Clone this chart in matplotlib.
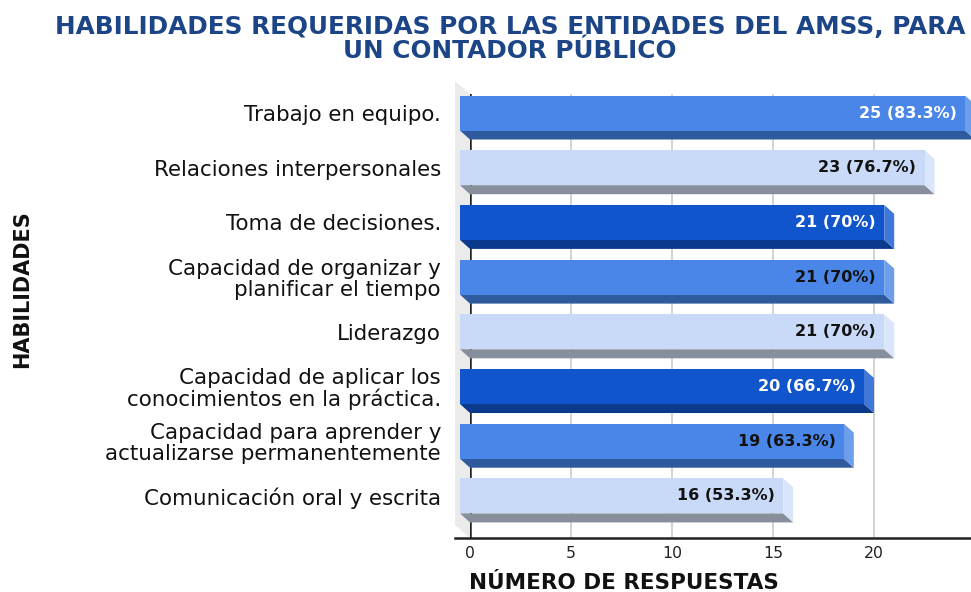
import numpy as np
import matplotlib
matplotlib.use("Agg")
import matplotlib.pyplot as plt
from matplotlib.patches import Polygon

# ── Data ─────────────────────────────────────────────────────
habilidades = [
    "Trabajo en equipo.",
    "Relaciones interpersonales",
    "Toma de decisiones.",
    "Capacidad de organizar y\nplanificar el tiempo",
    "Liderazgo",
    "Capacidad de aplicar los\nconocimientos en la práctica.",
    "Capacidad para aprender y\nactualizarse permanentemente",
    "Comunicación oral y escrita",
]
respuestas = [25, 23, 21, 21, 21, 20, 19, 16]
porcentajes = ["83.3%", "76.7%", "70%", "70%", "70%", "66.7%", "63.3%", "53.3%"]
x_ticks = [0, 5, 10, 15, 20]
x_max = 25

# ── Styles ───────────────────────────────────────────────────
# (front, bottom, side) per palette entry, Google Sheets blues
PALETTE = {
    "mid":   ("#4a86e8", "#2f5a9e", "#6d9eeb"),
    "light": ("#c9daf8", "#878f9d", "#d9e5fb"),
    "dark":  ("#1155cc", "#0b3a8c", "#3f78d8"),
}
bar_style = ["mid", "light", "dark", "mid", "light", "dark", "mid", "light"]
label_color = ["white", "#111111", "white", "#111111", "#111111", "white", "#111111", "#111111"]

W, H = 971, 592
DEPTH = (10, 9)        # 3D depth offset in px (left, up) of the front face
WALL = (15, 13)        # side wall depth in px
BAR_H = 0.64

plt.rcParams["font.family"] = ["DejaVu Sans"]

fig = plt.figure(figsize=(W / 100, H / 100), dpi=100)
fig.patch.set_facecolor("white")

# axes = back plane of the 3D chart, pixel box 470..975 x 94..538
ax = fig.add_axes([470 / W, 54 / H, 505 / W, 444 / H])
ax.set_xlim(0, x_max)
ax.set_ylim(7.605, -0.512)
ax.set_facecolor("none")


def px(dx, dy):
    """image pixel offset (right, down) -> data offset"""
    inv = ax.transData.inverted()
    x0, y0 = inv.transform((0, 0))
    x1, y1 = inv.transform((dx, -dy))
    return x1 - x0, y1 - y0


ddx, ddy = px(DEPTH[0], DEPTH[1])
wdx, wdy = px(WALL[0], WALL[1])
y_lo, y_hi = ax.get_ylim()[1], ax.get_ylim()[0]

# side wall
wall = Polygon([(-wdx, y_lo - wdy), (0, y_lo), (0, y_hi), (-wdx, y_hi - wdy)],
               closed=True, facecolor="#ebebeb", edgecolor="none",
               zorder=0, clip_on=False)
ax.add_patch(wall)

# grid and axis lines
for t in x_ticks[1:]:
    ax.axvline(t, color="#cccccc", lw=1.2, zorder=1)
ax.axvline(0, color="#222222", lw=1.8, zorder=1)
ax.plot([-wdx, x_max], [y_hi, y_hi], color="#222222", lw=1.8,
        zorder=6, clip_on=False)

for s in ax.spines.values():
    s.set_visible(False)

# bars
for i, (v, st) in enumerate(zip(respuestas, bar_style)):
    front, bottom, side = PALETTE[st]
    top, bot = i - BAR_H / 2, i + BAR_H / 2
    fl, fr = -ddx, v - ddx
    ft, fb = top - ddy, bot - ddy
    # bottom face
    ax.add_patch(Polygon([(fl, fb), (fr, fb), (v, bot), (0, bot)], closed=True,
                         facecolor=bottom, edgecolor="none", zorder=3, clip_on=False))
    # right side face
    ax.add_patch(Polygon([(fr, ft), (v, top), (v, bot), (fr, fb)], closed=True,
                         facecolor=side, edgecolor="none", zorder=3, clip_on=False))
    # front face
    ax.add_patch(Polygon([(fl, ft), (fr, ft), (fr, fb), (fl, fb)], closed=True,
                         facecolor=front, edgecolor="none", zorder=4, clip_on=False))
    ax.annotate(f"{v} ({porcentajes[i]})", xy=(fr, (ft + fb) / 2),
                xytext=(-6, 0), textcoords="offset points",
                ha="right", va="center", fontsize=11.5, fontweight="bold",
                color=label_color[i], zorder=5)

# ticks
ax.set_yticks(np.arange(len(habilidades)) - ddy)
ax.set_yticklabels(habilidades, fontsize=15.4, color="#111111",
                   linespacing=1.05, ha="right")
ax.set_xticks(x_ticks)
ax.set_xticklabels([str(t) for t in x_ticks], fontsize=11.3, color="#222222")
ax.tick_params(axis="y", length=0, pad=20.9)
ax.tick_params(axis="x", length=0, pad=6)

# titles
fig.text(510 / W, 1 - 39 / H,
         "HABILIDADES REQUERIDAS POR LAS ENTIDADES DEL AMSS, PARA\nUN CONTADOR PÚBLICO",
         ha="center", va="center", fontsize=17.8, fontweight="bold",
         color="#1c4587", linespacing=1.0)
fig.text(469 / W, 1 - 589 / H, "NÚMERO DE RESPUESTAS", ha="left", va="baseline",
         fontsize=15.5, fontweight="bold", color="#111111")
fig.text(22 / W, 1 - 289 / H, "HABILIDADES", ha="center", va="center",
         rotation=90, fontsize=15, fontweight="bold", color="#111111")

fig.savefig("out.png", dpi=100)
